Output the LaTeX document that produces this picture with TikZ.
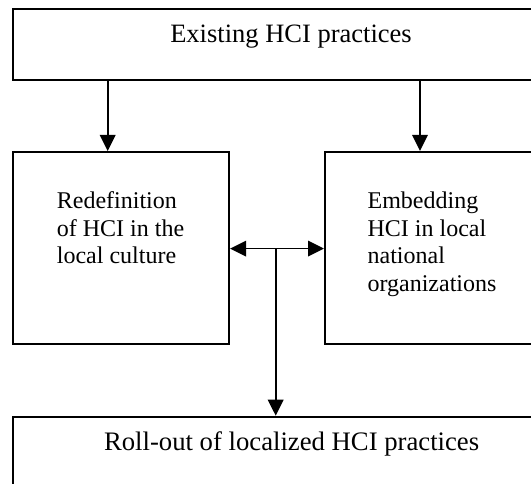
\documentclass[tikz,border=0pt]{standalone}
\usepackage{fontspec}
\setmainfont{Liberation Serif}
\usetikzlibrary{arrows.meta}
\begin{document}
\begin{tikzpicture}[x=1pt,y=-1pt,
  box/.style={draw, line width=1.8pt, inner sep=0pt, anchor=north west},
  txt/.style={inner sep=0pt, anchor=base west},
  ctxt/.style={inner sep=0pt, anchor=base},
  arr/.style={line width=1.8pt, -{Triangle[length=16pt,width=15.5pt]}},
  darr/.style={line width=1.8pt, {Triangle[length=16pt,width=15.5pt]}-{Triangle[length=16pt,width=15.5pt]}}]
\useasboundingbox (0,0) rectangle (531,484);
\clip (0,0) rectangle (531,484);
\node[box, minimum width=540pt, minimum height=71.3pt] (top) at (12,8) {};
\node[box, minimum width=216.3pt, minimum height=192.3pt] (red) at (12,151) {};
\node[box, minimum width=230pt, minimum height=192.3pt] (emb) at (324,151) {};
\node[box, minimum width=540pt, minimum height=100pt] (roll) at (12,415.7) {};
\node[ctxt, font=\fontsize{26.5}{30}\selectfont] (toptxt) at (291,42.3) {Existing HCI practices};
\node[txt] (redtxt) at (56.7,208.3) {\parbox[t]{160pt}{\fontsize{24}{27.8}\selectfont\raggedright Redefinition\\of HCI in the\\local culture}};
\node[txt] (embtxt) at (367.4,208.3) {\parbox[t]{165pt}{\fontsize{24}{27.8}\selectfont\raggedright Embedding\\HCI in local\\national\\organizations}};
\node[ctxt, font=\fontsize{26.7}{30}\selectfont] (rolltxt) at (291.6,450.7) {Roll-out of localized HCI practices};
\draw[arr] (top.south -| 107.7,0) -- (red.north -| 107.7,0);
\draw[arr] (top.south -| 420,0) -- (emb.north -| 420,0);
\coordinate (mid) at (275.7,248.6);
\draw[darr] (red.east |- mid) -- (emb.west |- mid);
\draw[arr] (mid) -- (roll.north -| mid);
\end{tikzpicture}
\end{document}
